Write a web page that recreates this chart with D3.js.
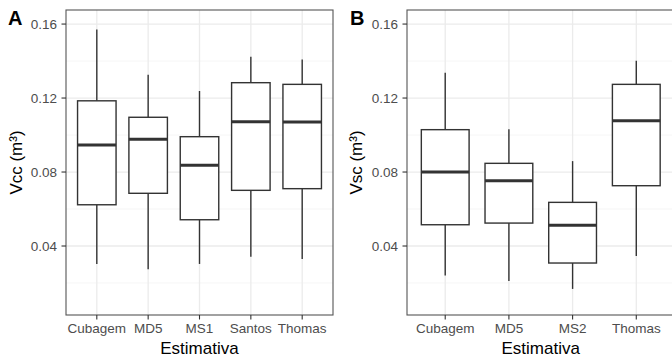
<!DOCTYPE html>
<html>
<head>
<meta charset="utf-8">
<script src="https://cdn.jsdelivr.net/npm/d3@7"></script>
<style>
  html, body { margin: 0; padding: 0; background: #fff; }
  svg { display: block; font-family: 'Liberation Sans', Arial, sans-serif; }
</style>
</head>
<body>
<svg id="chart" width="672" height="358"></svg>
<script>
// ── Data ─────────────────────────────────────────────
const catsA   = ['Cubagem', 'MD5', 'MS1', 'Santos', 'Thomas'];
const lowA    = [0.0303, 0.0274, 0.0303, 0.0342, 0.0330];
const q1A     = [0.0623, 0.0685, 0.0542, 0.0701, 0.0710];
const medA    = [0.0946, 0.0977, 0.0836, 0.1072, 0.1070];
const q3A     = [0.1185, 0.1096, 0.0991, 0.1283, 0.1274];
const highA   = [0.1571, 0.1326, 0.1238, 0.1423, 0.1409];

const catsB   = ['Cubagem', 'MD5', 'MS2', 'Thomas'];
const lowB    = [0.0240, 0.0211, 0.0168, 0.0346];
const q1B     = [0.0515, 0.0524, 0.0308, 0.0726];
const medB    = [0.0800, 0.0753, 0.0512, 0.1077];
const q3B     = [0.1029, 0.0847, 0.0636, 0.1274];
const highB   = [0.1337, 0.1031, 0.0859, 0.1402];

const yTicks  = [0.04, 0.08, 0.12, 0.16];
const yMinor  = [0.02, 0.06, 0.10, 0.14];
const yDomain = [0.0027, 0.1676];

const svg = d3.select('#chart');

function panel(opt) {
  const { x0, x1, y0, y1, cats, low, q1, med, q3, high, tag, ytitle, tagX, titleX } = opt;
  const g = svg.append('g');

  // discrete axis with ggplot's 0.6-unit expansion on each side
  const x = d3.scalePoint().domain(cats).range([x0, x1]).padding(0.6);
  const unit = x.step();
  const y = d3.scaleLinear().domain(yDomain).range([y1, y0]);

  g.append('rect').attr('x', x0).attr('y', y0)
    .attr('width', x1 - x0).attr('height', y1 - y0).attr('fill', '#fff');

  // grid
  g.selectAll('line.minor').data(yMinor).join('line')
    .attr('x1', x0).attr('x2', x1)
    .attr('y1', d => y(d)).attr('y2', d => y(d))
    .attr('stroke', '#F2F2F2').attr('stroke-width', 0.7);
  g.selectAll('line.majy').data(yTicks).join('line')
    .attr('x1', x0).attr('x2', x1)
    .attr('y1', d => y(d)).attr('y2', d => y(d))
    .attr('stroke', '#EBEBEB').attr('stroke-width', 1.3);
  g.selectAll('line.majx').data(cats).join('line')
    .attr('x1', d => x(d)).attr('x2', d => x(d))
    .attr('y1', y0).attr('y2', y1)
    .attr('stroke', '#EBEBEB').attr('stroke-width', 1.3);

  // boxes
  const bw = unit * 0.75;
  const data = cats.map((c, i) => ({ c, lo: low[i], q1: q1[i], md: med[i], q3: q3[i], hi: high[i] }));
  const bx = g.selectAll('g.box').data(data).join('g');
  bx.append('line')
    .attr('x1', d => x(d.c)).attr('x2', d => x(d.c))
    .attr('y1', d => y(d.hi)).attr('y2', d => y(d.q3))
    .attr('stroke', '#333').attr('stroke-width', 1.4);
  bx.append('line')
    .attr('x1', d => x(d.c)).attr('x2', d => x(d.c))
    .attr('y1', d => y(d.q1)).attr('y2', d => y(d.lo))
    .attr('stroke', '#333').attr('stroke-width', 1.4);
  bx.append('rect')
    .attr('x', d => x(d.c) - bw / 2).attr('width', bw)
    .attr('y', d => y(d.q3)).attr('height', d => y(d.q1) - y(d.q3))
    .attr('fill', '#fff').attr('stroke', '#333').attr('stroke-width', 1.4);
  bx.append('line')
    .attr('x1', d => x(d.c) - bw / 2).attr('x2', d => x(d.c) + bw / 2)
    .attr('y1', d => y(d.md)).attr('y2', d => y(d.md))
    .attr('stroke', '#333').attr('stroke-width', 3);

  // border
  g.append('rect').attr('x', x0).attr('y', y0)
    .attr('width', x1 - x0).attr('height', y1 - y0)
    .attr('fill', 'none').attr('stroke', '#555').attr('stroke-width', 1.1);

  // y axis
  yTicks.forEach(t => {
    g.append('line').attr('x1', x0 - 4.5).attr('x2', x0)
      .attr('y1', y(t)).attr('y2', y(t)).attr('stroke', '#333').attr('stroke-width', 1.1);
    g.append('text').attr('x', x0 - 9).attr('y', y(t)).attr('dy', '0.35em')
      .attr('text-anchor', 'end').attr('font-size', 13.5).attr('fill', '#4D4D4D')
      .text(d3.format('.2f')(t));
  });
  // x axis
  cats.forEach(c => {
    g.append('line').attr('x1', x(c)).attr('x2', x(c))
      .attr('y1', y1).attr('y2', y1 + 4.5).attr('stroke', '#333').attr('stroke-width', 1.1);
    g.append('text').attr('x', x(c)).attr('y', y1 + 18)
      .attr('text-anchor', 'middle').attr('font-size', 13.5).attr('fill', '#4D4D4D')
      .text(c);
  });

  g.append('text').attr('x', (x0 + x1) / 2).attr('y', y1 + 39)
    .attr('text-anchor', 'middle').attr('font-size', 17).attr('fill', '#000')
    .text('Estimativa');

  g.append('text')
    .attr('transform', `translate(${titleX},${(y0 + y1) / 2}) rotate(-90)`)
    .attr('text-anchor', 'middle').attr('font-size', 17).attr('fill', '#000')
    .text(ytitle);

  g.append('text').attr('x', tagX).attr('y', 25)
    .attr('font-size', 20).attr('font-weight', 'bold').attr('fill', '#000')
    .text(tag);
}

panel({ x0: 66, x1: 333, y0: 10, y1: 315,
  cats: catsA, low: lowA, q1: q1A, med: medA, q3: q3A, high: highA,
  tag: 'A', ytitle: 'Vcc (m³)', tagX: 8, titleX: 22 });
panel({ x0: 407, x1: 674.5, y0: 10, y1: 315,
  cats: catsB, low: lowB, q1: q1B, med: medB, q3: q3B, high: highB,
  tag: 'B', ytitle: 'Vsc (m³)', tagX: 350, titleX: 362 });
</script>
</body>
</html>
